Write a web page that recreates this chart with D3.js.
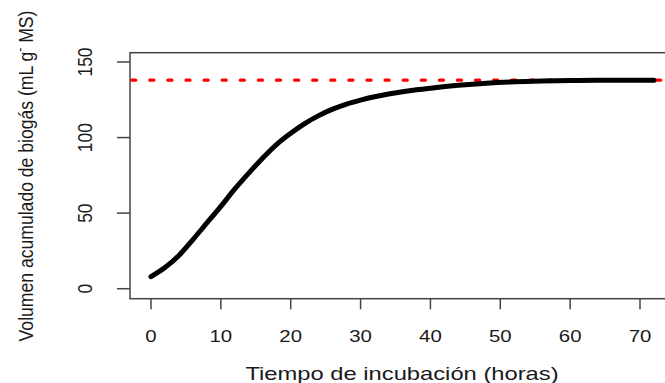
<!DOCTYPE html>
<html>
<head>
<meta charset="utf-8">
<script src="https://cdn.jsdelivr.net/npm/d3@7"></script>
<style>
  html, body { margin: 0; padding: 0; background: #fff; }
  svg { display: block; }
  text { font-family: "Liberation Sans", Arial, sans-serif; fill: #1a1a1a; }
</style>
</head>
<body>
<svg id="chart" width="665" height="383"></svg>
<script>
// ---- data ----
const hours  = [0, 2, 4, 6, 8, 10, 12, 14, 16, 18, 20, 22, 24, 26, 28, 30, 32, 34, 36, 38, 40, 44, 48, 52, 56, 60, 64, 68, 72];
const biogas = [8, 14, 22, 32.5, 43.5, 54.5, 66, 76.5, 86.5, 95.5, 102.8, 109.2, 114.5, 118.8, 122.2, 124.8, 127, 128.8, 130.3, 131.6, 132.7, 134.6, 136, 136.9, 137.4, 137.7, 137.9, 138, 138];
const asymptote = [138];
const xTicks = [0, 10, 20, 30, 40, 50, 60, 70];
const yTicks = [0, 50, 100, 150];
const xTitle = "Tiempo de incubación (horas)";
const yTitleMain = "Volumen acumulado de biogás (mL g";
const yTitleSup = "-";
const yTitleEnd = " MS)";

// ---- layout ----
const svg = d3.select("#chart");
const box = { left: 130, right: 673, top: 52.7, bottom: 298.7 };
const x = d3.scaleLinear().domain([0, 70]).range([151, 640]);
const y = d3.scaleLinear().domain([0, 150]).range([288.7, 62]);
const SX = 1.2; // horizontal stretch of the reference's glyphs
const axisCol = "#444";

// plot box
svg.append("rect")
  .attr("x", box.left).attr("y", box.top)
  .attr("width", box.right - box.left).attr("height", box.bottom - box.top)
  .attr("fill", "none").attr("stroke", axisCol).attr("stroke-width", 1.5);

// x axis ticks
const gx = svg.append("g");
gx.selectAll("line").data(xTicks).join("line")
  .attr("x1", d => x(d)).attr("x2", d => x(d))
  .attr("y1", box.bottom).attr("y2", box.bottom + 10.6)
  .attr("stroke", axisCol).attr("stroke-width", 1.5);
gx.selectAll("text").data(xTicks).join("text")
  .attr("transform", d => `translate(${x(d)},342) scale(${SX},1)`)
  .attr("text-anchor", "middle")
  .attr("font-size", 17)
  .text(d => d);

// y axis ticks
const gy = svg.append("g");
gy.selectAll("line").data(yTicks).join("line")
  .attr("x1", box.left - 13).attr("x2", box.left)
  .attr("y1", d => y(d)).attr("y2", d => y(d))
  .attr("stroke", axisCol).attr("stroke-width", 1.5);
gy.selectAll("text").data(yTicks).join("text")
  .attr("transform", d => `translate(92,${y(d)}) scale(${SX},1) rotate(-90)`)
  .attr("text-anchor", "middle")
  .attr("font-size", 17.5)
  .text(d => d);

// axis titles
svg.append("text")
  .attr("transform", `translate(402,380) scale(1.25,1)`)
  .attr("text-anchor", "middle")
  .attr("font-size", 19)
  .text(xTitle);

const yt = svg.append("text")
  .attr("transform", `translate(33,176) scale(${SX},1) rotate(-90)`)
  .attr("text-anchor", "middle")
  .attr("font-size", 17.6);
yt.append("tspan").text(yTitleMain);
yt.append("tspan").attr("baseline-shift", "super").attr("font-size", 12).text(yTitleSup);
yt.append("tspan").text(yTitleEnd);

// asymptote (red dotted)
svg.append("g").selectAll("line").data(asymptote).join("line")
  .attr("x1", box.left + 1.7).attr("x2", box.right)
  .attr("y1", d => y(d)).attr("y2", d => y(d))
  .attr("stroke", "#ff0000").attr("stroke-width", 3.3)
  .attr("stroke-linecap", "round")
  .attr("stroke-dasharray", "4 14.1");

// cumulative biogas curve
const pts = hours.map((h, i) => [h, biogas[i]]);
svg.append("path")
  .datum(pts)
  .attr("d", d3.line().x(d => x(d[0])).y(d => y(d[1])).curve(d3.curveMonotoneX))
  .attr("fill", "none").attr("stroke", "#000").attr("stroke-width", 5)
  .attr("stroke-linecap", "round").attr("stroke-linejoin", "round");
</script>
</body>
</html>
